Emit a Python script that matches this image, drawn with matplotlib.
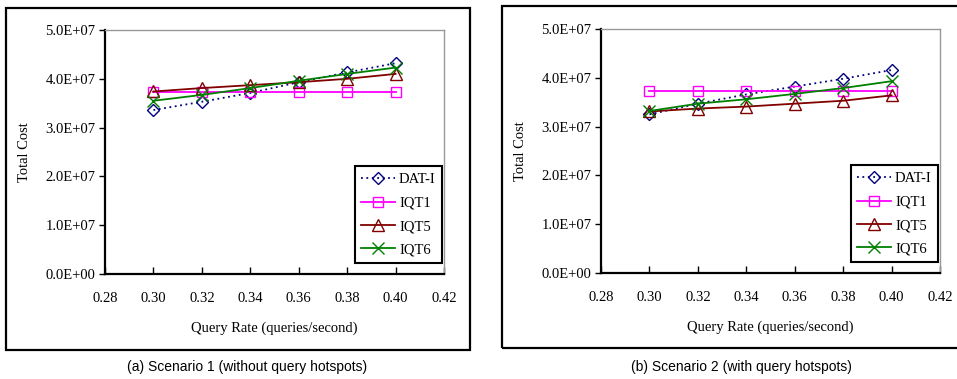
#!/usr/bin/env python3
"""Total cost vs query rate, two scenarios side by side."""

import matplotlib
matplotlib.use("Agg")
import matplotlib.pyplot as plt
from matplotlib.patches import Rectangle

query_rate = [0.30, 0.32, 0.34, 0.36, 0.38, 0.40]
series_names = ["DAT-I", "IQT1", "IQT5", "IQT6"]

# scenario 1 (without query hotspots)
s1_dati = [3.36e7, 3.53e7, 3.71e7, 3.93e7, 4.13e7, 4.32e7]
s1_iqt1 = [3.73e7, 3.73e7, 3.73e7, 3.73e7, 3.73e7, 3.73e7]
s1_iqt5 = [3.74e7, 3.81e7, 3.87e7, 3.93e7, 4.00e7, 4.10e7]
s1_iqt6 = [3.55e7, 3.67e7, 3.81e7, 3.96e7, 4.10e7, 4.23e7]

# scenario 2 (with query hotspots)
s2_dati = [3.25e7, 3.47e7, 3.66e7, 3.82e7, 3.98e7, 4.16e7]
s2_iqt1 = [3.73e7, 3.73e7, 3.73e7, 3.73e7, 3.73e7, 3.73e7]
s2_iqt5 = [3.31e7, 3.37e7, 3.41e7, 3.47e7, 3.53e7, 3.64e7]
s2_iqt6 = [3.32e7, 3.47e7, 3.56e7, 3.67e7, 3.79e7, 3.93e7]

x_ticks = [0.28, 0.30, 0.32, 0.34, 0.36, 0.38, 0.40, 0.42]
y_ticks = [0, 1e7, 2e7, 3e7, 4e7, 5e7]
y_ticklabels = ["0.0E+00", "1.0E+07", "2.0E+07", "3.0E+07", "4.0E+07", "5.0E+07"]
captions = ["(a) Scenario 1 (without query hotspots)",
            "(b) Scenario 2 (with query hotspots)"]

styles = [
    dict(color="#000080", ls=(0, (1, 2)), marker="D", ms=6),
    dict(color="#FF00FF", ls="-", marker="s", ms=7),
    dict(color="#800000", ls="-", marker="^", ms=8),
    dict(color="#008000", ls="-", marker="x", ms=9),
]

SERIF = "Liberation Serif"
W, H = 957, 379
fig = plt.figure(figsize=(W / 100, H / 100), dpi=100)

# outer frames around each panel
for (x0, y0, x1, y1) in [(6, 8, 470, 350), (502, 6, 962, 348)]:
    fig.patches.append(Rectangle((x0 / W, 1 - y1 / H), (x1 - x0) / W, (y1 - y0) / H,
                                 transform=fig.transFigure, fill=False,
                                 edgecolor="black", linewidth=1.6))

panels = [
    ([105, 30, 444, 274], [s1_dati, s1_iqt1, s1_iqt5, s1_iqt6], 247),
    ([601, 29, 940, 273], [s2_dati, s2_iqt1, s2_iqt5, s2_iqt6], 741),
]

for i, (box, data, cap_x) in enumerate(panels):
    l, t, r, b = box
    ax = fig.add_axes([l / W, 1 - b / H, (r - l) / W, (b - t) / H])
    for name, vals, st in zip(series_names, data, styles):
        ax.plot(query_rate, vals, color=st["color"], linestyle=st["ls"], lw=1.3,
                marker=st["marker"], markersize=st["ms"], markerfacecolor="none",
                markeredgecolor=st["color"], markeredgewidth=1.0, label=name)
    ax.set_xlim(0.28, 0.42)
    ax.set_ylim(0, 5e7)
    ax.set_xticks(x_ticks)
    ax.set_xticklabels([f"{v:.2f}" for v in x_ticks], family=SERIF, fontsize=10.5)
    ax.set_yticks(y_ticks)
    ax.set_yticklabels(y_ticklabels, family=SERIF, fontsize=10.5)
    ax.tick_params(axis="x", direction="in", length=5, pad=13, width=1)
    ax.tick_params(axis="y", direction="out", length=4, pad=3, width=1)
    for s in ("left", "bottom"):
        ax.spines[s].set_linewidth(1.6)
    for s in ("top", "right"):
        ax.spines[s].set_color("#999999")
        ax.spines[s].set_linewidth(1.0)
    ax.set_xlabel("Query Rate (queries/second)", family=SERIF, fontsize=10.5, labelpad=12)
    ax.set_ylabel("Total Cost", family=SERIF, fontsize=10.5, labelpad=10)
    leg = ax.legend(loc="lower right", bbox_to_anchor=(0.995, 0.045),
                    prop=dict(family=SERIF, size=10.5), frameon=True, fancybox=False,
                    edgecolor="black", framealpha=1, borderaxespad=0,
                    handlelength=2.3, handletextpad=0.3, labelspacing=0.7,
                    borderpad=0.45)
    leg.get_frame().set_linewidth(1.5)
    fig.text(cap_x / W, 1 - 367 / H, captions[i], ha="center", va="center",
             family="Liberation Sans", fontsize=10)

fig.savefig("out.png", dpi=100)
